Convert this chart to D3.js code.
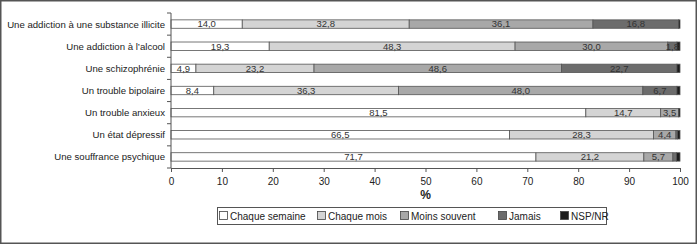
<!DOCTYPE html>
<html>
<head>
<meta charset="utf-8">
<script src="https://cdn.jsdelivr.net/npm/d3@7"></script>
<style>
  body { margin: 0; background: #fff; }
  svg text { font-family: "Liberation Sans", Arial, sans-serif; }
</style>
</head>
<body>
<div class="container"></div>
<script>
// stacked horizontal bars, percentages per item

const categories = [
  "Une addiction à une substance  illicite",
  "Une addiction à l’alcool",
  "Une schizophrénie",
  "Un trouble bipolaire",
  "Un trouble anxieux",
  "Un état dépressif",
  "Une souffrance psychique"
];

const seriesNames = ["Chaque semaine", "Chaque mois", "Moins souvent", "Jamais", "NSP/NR"];

const chaqueSemaine = [14.0, 19.3, 4.9, 8.4, 81.5, 66.5, 71.7];
const chaqueMois    = [32.8, 48.3, 23.2, 36.3, 14.7, 28.3, 21.2];
const moinsSouvent  = [36.1, 30.0, 48.6, 48.0, 3.5, 4.4, 5.7];
const jamais        = [16.8, 1.8, 22.7, 6.7, 0.0, 0.3, 0.7];
const nspNr         = [0.3, 0.6, 0.6, 0.6, 0.3, 0.5, 0.7];

const xTicks = [0, 10, 20, 30, 40, 50, 60, 70, 80, 90, 100];

const colors = ["#ffffff", "#d4d4d4", "#a8a8a8", "#6c6c6c", "#1c1c1c"];

const w = 700, h = 245;
const margin = { top: 13, left: 171, right: 20, bottom: 77 };

const rows = categories.map((c, i) => ({
  cat: c,
  "Chaque semaine": chaqueSemaine[i],
  "Chaque mois": chaqueMois[i],
  "Moins souvent": moinsSouvent[i],
  "Jamais": jamais[i],
  "NSP/NR": nspNr[i]
}));

const stacked = d3.stack().keys(seriesNames)(rows);

const fr = d3.formatLocale({ decimal: ",", thousands: " ", grouping: [3], currency: ["", "€"] });
const fmt = fr.format(".1f");

const svg = d3.select(".container").append("svg")
  .attr("width", w)
  .attr("height", h);

// outer frame
svg.append("rect")
  .attr("x", 0.75).attr("y", 0.75)
  .attr("width", 695.5).attr("height", 242.5)
  .attr("fill", "none")
  .attr("stroke", "#555")
  .attr("stroke-width", 1.5);

const xScale = d3.scaleLinear().domain([0, 100]).range([margin.left, 680]);
const yScale = d3.scaleBand().domain(categories).range([margin.top, 168]).paddingInner(0.62).paddingOuter(0.31);

const g = svg.append("g");

g.selectAll("g.layer")
  .data(stacked)
  .join("g")
  .attr("class", "layer")
  .attr("fill", (d, i) => colors[i])
  .selectAll("rect")
  .data(d => d)
  .join("rect")
  .attr("x", d => xScale(d[0]))
  .attr("y", d => yScale(d.data.cat))
  .attr("width", d => xScale(d[1]) - xScale(d[0]))
  .attr("height", yScale.bandwidth())
  .attr("stroke", "#555")
  .attr("stroke-width", 0.8);

// value labels
stacked.forEach((layer, li) => {
  if (li === 4) return;
  g.append("g").selectAll("text")
    .data(layer.filter(d => d[1] - d[0] >= 1))
    .join("text")
    .attr("x", d => (xScale(d[0]) + xScale(d[1])) / 2)
    .attr("y", d => yScale(d.data.cat) + yScale.bandwidth() / 2 + 3.3)
    .attr("text-anchor", "middle")
    .attr("font-size", "9.5px")
    .attr("fill", "#333")
    .text(d => fmt(d[1] - d[0]));
});

// y axis: line + ticks at band boundaries
const yAxisG = svg.append("g").attr("stroke", "#555").attr("stroke-width", 1);
yAxisG.append("line")
  .attr("x1", margin.left).attr("x2", margin.left)
  .attr("y1", margin.top).attr("y2", 168);
const step = yScale.step();
yAxisG.selectAll("line.tk")
  .data(d3.range(categories.length + 1))
  .join("line")
  .attr("class", "tk")
  .attr("x1", margin.left - 4).attr("x2", margin.left)
  .attr("y1", i => margin.top + i * step)
  .attr("y2", i => margin.top + i * step);

svg.append("g").selectAll("text")
  .data(categories)
  .join("text")
  .attr("x", 165)
  .attr("y", d => yScale(d) + yScale.bandwidth() / 2 + 3.5)
  .attr("text-anchor", "end")
  .attr("font-size", "9.6px")
  .attr("fill", "#222")
  .text(d => d);

// x axis
const xAxis = d3.axisBottom(xScale).tickValues(xTicks).tickSize(4).tickFormat(d => d);
const xg = svg.append("g")
  .attr("transform", "translate(0,168)")
  .call(xAxis);
xg.attr("font-family", null);
xg.select(".domain").attr("stroke", "#555");
xg.selectAll(".tick line").attr("stroke", "#555");
xg.selectAll(".tick text")
  .attr("font-size", "10px")
  .attr("fill", "#222")
  .attr("dy", "1em");

svg.append("text")
  .attr("x", (xScale(0) + xScale(100)) / 2)
  .attr("y", 199)
  .attr("text-anchor", "middle")
  .attr("font-weight", "bold")
  .attr("font-size", "12px")
  .attr("fill", "#222")
  .text("%");

// legend
const legendX = [219, 317, 400, 498, 560];
const legend = svg.append("g");
legend.append("rect")
  .attr("x", 217.5).attr("y", 207.5)
  .attr("width", 389).attr("height", 17)
  .attr("fill", "#fff")
  .attr("stroke", "#555")
  .attr("stroke-width", 1);

const items = legend.selectAll("g.item")
  .data(seriesNames)
  .join("g")
  .attr("class", "item")
  .attr("transform", (d, i) => `translate(${legendX[i]},216)`);
items.append("rect")
  .attr("x", 0.5).attr("y", -4.5)
  .attr("width", 8).attr("height", 8)
  .attr("fill", (d, i) => colors[i])
  .attr("stroke", "#444")
  .attr("stroke-width", 0.8);
items.append("text")
  .attr("x", 11)
  .attr("y", 3.5)
  .attr("font-size", "10px")
  .attr("fill", "#222")
  .text(d => d);
</script>
</body>
</html>
